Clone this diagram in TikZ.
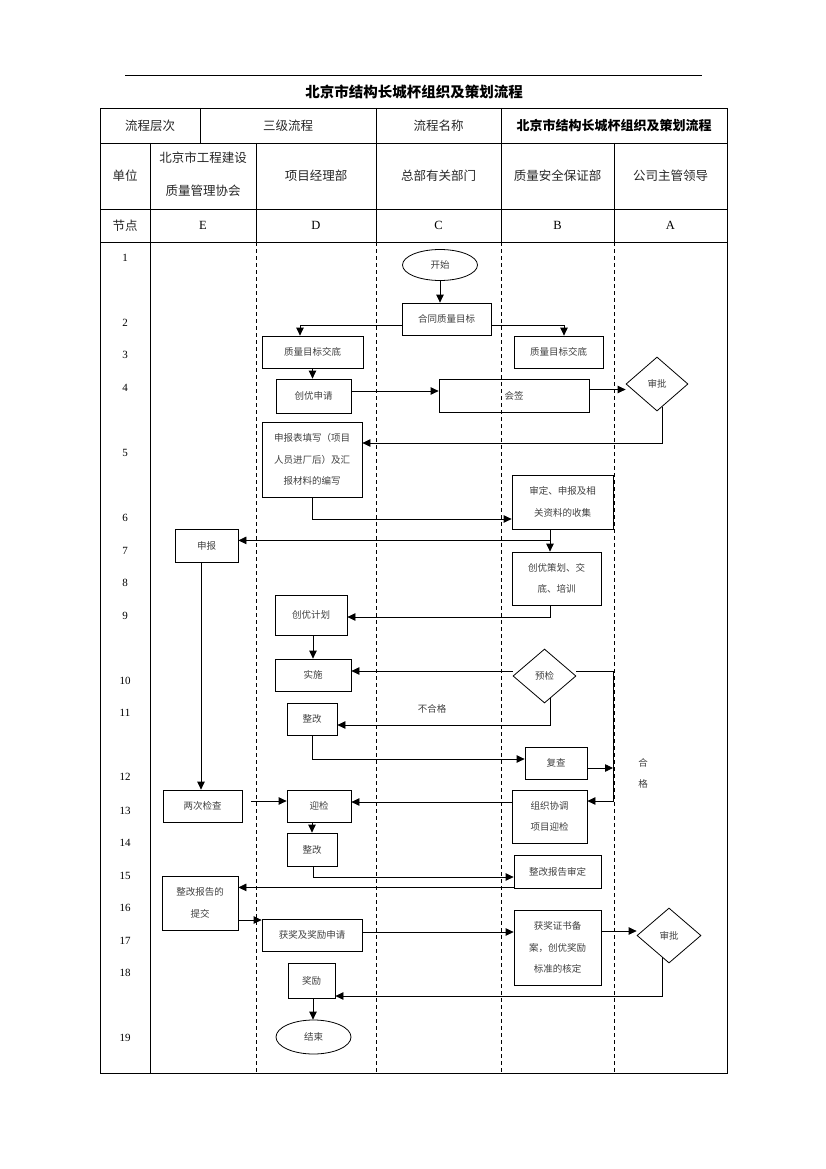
\documentclass[tikz,border=0pt]{standalone}
\usepackage{fontspec}
\setmainfont{Liberation Serif}
\newfontfamily\cjk{Noto Sans CJK SC}
\usetikzlibrary{shapes.geometric,arrows.meta}
\tikzset{
  bx/.style 2 args={draw, line width=0.8pt, rectangle, inner sep=0pt,
    minimum width=#1pt, minimum height=#2pt,
    font=\cjk\fontsize{9.5}{21.5}\selectfont, text=black!75, align=center},
  dia/.style 2 args={draw, line width=0.8pt, diamond, inner sep=0pt,
    minimum width=#1pt, minimum height=#2pt,
    font=\cjk\fontsize{9.5}{21.5}\selectfont, text=black!75, align=center},
  ell/.style 2 args={draw, line width=0.8pt, ellipse, inner sep=0pt,
    minimum width=#1pt, minimum height=#2pt,
    font=\cjk\fontsize{9.5}{21.5}\selectfont, text=black!75, align=center},
  arr/.style={line width=0.8pt, -{Triangle[length=8pt,width=7.5pt]}},
  ln/.style={line width=0.8pt},
  lane/.style={line width=0.8pt, dash pattern=on 4pt off 3pt},
  hd/.style={font=\cjk\fontsize{12.5}{33}\selectfont, text=black!85, align=center, inner sep=0pt},
  hdl/.style={font=\fontsize{12.5}{15}\selectfont, inner sep=0pt},
  num/.style={font=\fontsize{11}{13}\selectfont, inner sep=0pt},
  lbl/.style={font=\cjk\fontsize{9.5}{21.5}\selectfont, text=black!75, inner sep=0pt},
  ttl/.style={font=\cjk\bfseries\fontsize{14.5}{17}\selectfont, inner sep=0pt}
}
\begin{document}
\begin{tikzpicture}[x=1pt,y=-1pt]
\useasboundingbox (0,0) rectangle (826,1169);
% top rule and title
\draw[ln] (125,75) -- (702,75);
\node[ttl] (title) at (414,92) {北京市结构长城杯组织及策划流程};
% table frame
\draw[ln] (100,108) rectangle (727,1073);
\draw[ln] (100,143) -- (727,143);
\draw[ln] (100,209) -- (727,209);
\draw[ln] (100,242) -- (727,242);
\draw[ln] (200,108) -- (200,143);
\draw[ln] (376,108) -- (376,242);
\draw[ln] (501,108) -- (501,242);
\draw[ln] (150,143) -- (150,1073);
\draw[ln] (256,143) -- (256,242);
\draw[ln] (614,143) -- (614,242);
\draw[lane] (256,242) -- (256,1073);
\draw[lane] (376,242) -- (376,1073);
\draw[lane] (501,242) -- (501,1073);
\draw[lane] (614,242) -- (614,1073);
% header texts
\node[hd] (h11) at (150,125.5) {流程层次};
\node[hd] (h12) at (288,125.5) {三级流程};
\node[hd] (h13) at (438.5,125.5) {流程名称};
\node[hd, font=\cjk\bfseries\fontsize{13}{15}\selectfont, text=black] (h14) at (614,125.5) {北京市结构长城杯组织及策划流程};
\node[hd] (h21) at (125,176) {单位};
\node[hd] (h22) at (203,174.5) {北京市工程建设\\质量管理协会};
\node[hd] (h23) at (316,176) {项目经理部};
\node[hd] (h24) at (438.5,176) {总部有关部门};
\node[hd] (h25) at (557.5,176) {质量安全保证部};
\node[hd] (h26) at (670.5,176) {公司主管领导};
\node[hd] (h31) at (125,225.5) {节点};
\node[hdl] (h32) at (203,225.5) {E};
\node[hdl] (h33) at (316,225.5) {D};
\node[hdl] (h34) at (438.5,225.5) {C};
\node[hdl] (h35) at (557.5,225.5) {B};
\node[hdl] (h36) at (670.5,225.5) {A};
% row numbers
\foreach \n/\yy in {1/258,2/323,3/355,4/388,5/453,6/518,7/551,8/583,9/616,10/681,11/713,12/777,13/811,14/843,15/876,16/908,17/941,18/973,19/1038}
  \node[num] (n\n) at (125,\yy) {\n};
% nodes
\node[ell={75}{31}] (start) at (440,265) {开始};
\node[bx={89}{32}] (htmb) at (446.5,319) {合同质量目标};
\node[bx={101}{32}] (zl1) at (312.5,352) {质量目标交底};
\node[bx={89}{32}] (zl2) at (558.5,352) {质量目标交底};
\node[bx={75}{34}] (cysq) at (313.5,396) {创优申请};
\node[bx={150}{33}] (hq) at (514,395.5) {会签};
\node[dia={62}{54}] (sp1) at (657,384) {审批};
\node[bx={100}{75}] (sbb) at (312,459.5) {申报表填写（项目\\人员进厂后）及汇\\报材料的编写};
\node[bx={101}{54}] (sd) at (562.5,502) {审定、申报及相\\关资料的收集};
\node[bx={63}{33}] (sb) at (206.5,545.5) {申报};
\node[bx={89}{53}] (cych) at (556.5,578.5) {创优策划、交\\底、培训};
\node[bx={72}{40}] (cyjh) at (311,615) {创优计划};
\node[bx={76}{32}] (ss) at (313,675) {实施};
\node[dia={63}{54}] (yj) at (544.5,676) {预检};
\node[bx={50}{32}] (zg1) at (312,719) {整改};
\node[bx={62}{32}] (fc) at (556,763) {复查};
\node[bx={79}{32}] (lcjc) at (202.5,806) {两次检查};
\node[bx={64}{32}] (yjian) at (319,806) {迎检};
\node[bx={75}{53}] (zzxt) at (549.5,816.5) {组织协调\\项目迎检};
\node[bx={50}{33}] (zg2) at (312,849.5) {整改};
\node[bx={87}{33}] (zgsd) at (557.5,871.5) {整改报告审定};
\node[bx={76}{54}] (tj) at (200,903) {整改报告的\\提交};
\node[bx={100}{32}] (hjsq) at (312,935) {获奖及奖励申请};
\node[bx={87}{75}] (hjzs) at (557.5,947.5) {获奖证书备\\案，创优奖励\\标准的核定};
\node[dia={64}{55}] (sp2) at (669,935.5) {审批};
\node[bx={47}{35}] (jl) at (311.5,980.5) {奖励};
\node[ell={75}{34}] (end) at (313.5,1037) {结束};
% labels
\node[lbl] (bhg) at (432,709) {不合格};
\node[lbl] (he) at (643,763) {合};
\node[lbl] (ge) at (643,784) {格};
% helper coordinates
\coordinate (j1) at ([xshift=-12.5pt,yshift=-11pt]sd.south);
\coordinate (r1) at (613,801);
% connectors
\draw[arr] (start.south) -- (start.south |- htmb.north);
\draw[arr] ([yshift=-6pt]htmb.west) -| ([xshift=-12.5pt]zl1.north);
\draw[arr] ([yshift=-6pt]htmb.east) -| ([xshift=5.5pt]zl2.north);
\draw[arr] (zl1.south) -- (zl1.south |- cysq.north);
\draw[arr] ([yshift=5pt]cysq.east) -- ([yshift=5pt]cysq.east -| hq.west);
\draw[arr] ([yshift=6pt]hq.east) -- ([yshift=6pt]hq.east -| sp1.west);
\draw[arr] ([xshift=5pt,yshift=4pt]sp1.south) |- ([yshift=16.5pt]sbb.east);
\draw[arr] (sbb.south) |- ([yshift=-17pt]sd.west);
\draw[arr] ([xshift=-12.5pt]sd.south) -- ([xshift=-12.5pt]sd.south |- cych.north);
\draw[arr] (j1) -- (j1 -| sb.east);
\draw[arr] ([xshift=-6.5pt]cych.south) |- ([yshift=-2pt]cyjh.east);
\draw[arr] ([xshift=-5.5pt]sb.south) -- ([xshift=-5.5pt]sb.south |- lcjc.north);
\draw[arr] ([xshift=2pt]cyjh.south) -- ([xshift=2pt]cyjh.south |- ss.north);
\draw[arr] ([yshift=5pt]yj.west) -- ([yshift=5pt]yj.west -| ss.east);
\draw[arr] ([xshift=5.5pt,yshift=5pt]yj.south) |- ([yshift=-6pt]zg1.east);
\draw[arr] (zg1.south) |- ([yshift=4pt]fc.west);
\draw[arr] ([yshift=5pt]yj.east) -| (r1) -- (r1 -| zzxt.east);
\draw[arr] ([yshift=-5pt]fc.east) -- ([yshift=-5pt]fc.east -| r1);
\draw[arr] ([xshift=9pt,yshift=5pt]lcjc.east) -- ([yshift=5pt]lcjc.east -| yjian.west);
\draw[arr] ([yshift=14.5pt]zzxt.west) -- ([yshift=14.5pt]zzxt.west -| yjian.east);
\draw[arr] (zg2.north |- yjian.south) -- (zg2.north);
\draw[arr] ([xshift=1pt]zg2.south) |- ([yshift=-5.5pt]zgsd.west);
\draw[arr] ([yshift=1pt]zgsd.south west) -- ([yshift=1pt]zgsd.south west -| tj.east);
\draw[arr] ([yshift=-17pt]tj.east) -- ([yshift=-17pt]tj.east -| hjsq.west);
\draw[arr] ([yshift=3pt]hjsq.east) -- ([yshift=3pt]hjsq.east -| hjzs.west);
\draw[arr] ([yshift=16.5pt]hjzs.east) -- ([yshift=16.5pt]hjzs.east -| sp2.west);
\draw[arr] ([xshift=-7pt,yshift=6pt]sp2.south) |- ([yshift=-15.5pt]jl.east);
\draw[arr] ([xshift=1.5pt]jl.south) -- ([xshift=1.5pt]jl.south |- end.north);
\end{tikzpicture}
\end{document}
